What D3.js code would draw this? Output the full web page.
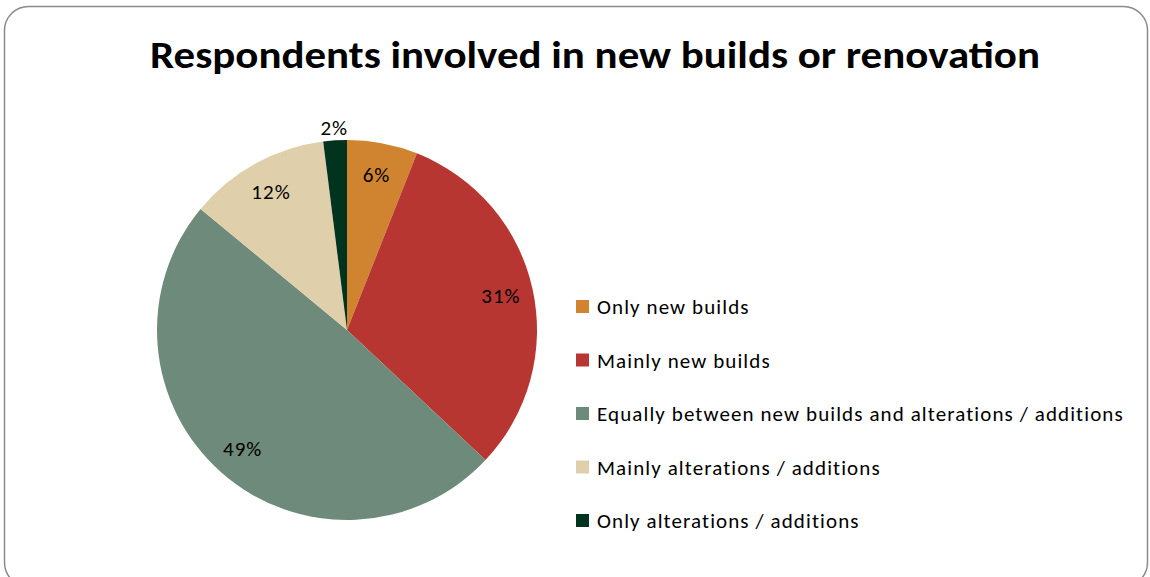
<!DOCTYPE html>
<html><head><meta charset="utf-8">
<script src="https://cdn.jsdelivr.net/npm/d3@7"></script>
<style>html,body{margin:0;padding:0;background:#fff;}svg{display:block;}</style>
</head><body>
<svg id="chart" width="1150" height="577"></svg>
<script>
const title = "Respondents involved in new builds or renovation";
const categories = ["Only new builds","Mainly new builds","Equally between new builds and alterations / additions","Mainly alterations / additions","Only alterations / additions"];
const values = [6, 31, 49, 12, 2];
const colors = ["#D0842F","#B73631","#6E8A7A","#DFCFAB","#02331F"];

const svg = d3.select("#chart");
const font = "Carlito, Lato, 'Liberation Sans', sans-serif";

svg.append("rect").attr("x",4.5).attr("y",6.5).attr("width",1143).attr("height",580)
  .attr("rx",24).attr("ry",24).attr("fill","#fff").attr("stroke","#8a8a8a").attr("stroke-width",1.5);

svg.append("text").attr("x",595).attr("y",68).attr("text-anchor","middle")
  .attr("font-family",font).attr("font-weight","bold").attr("font-size",38).attr("fill","#000")
  .attr("textLength",890).attr("lengthAdjust","spacingAndGlyphs")
  .text(title);

const cx = 347, cy = 330, R = 190;
const pie = d3.pie().sort(null).value(d=>d)(values);
const arc = d3.arc().innerRadius(0).outerRadius(R);
const g = svg.append("g").attr("transform",`translate(${cx},${cy})`);
g.selectAll("path").data(pie).join("path").attr("d",arc).attr("fill",(d,i)=>colors[i]);

const inner = d3.arc().innerRadius(R*0.83).outerRadius(R*0.83);
const outer = d3.arc().innerRadius(R+13).outerRadius(R+13);
g.selectAll("text").data(pie).join("text")
  .attr("transform",d=>`translate(${(d.data<5?outer:inner).centroid(d)})`)
  .attr("text-anchor","middle").attr("dy","0.35em")
  .attr("font-family",font).attr("font-size",21).attr("letter-spacing",1).attr("fill","#000")
  .text(d=>d.data+"%");

const ly = d3.scalePoint().domain(categories).range([307,521]);
const lg = svg.append("g");
categories.forEach((c,i)=>{
  lg.append("rect").attr("x",576).attr("y",ly(c)-7).attr("width",13).attr("height",13).attr("fill",colors[i]);
  lg.append("text").attr("x",597).attr("y",ly(c)).attr("dy","0.35em")
    .attr("font-family",font).attr("font-size",21).attr("letter-spacing",1.1).attr("fill","#000").text(c);
});
</script>
</body></html>
